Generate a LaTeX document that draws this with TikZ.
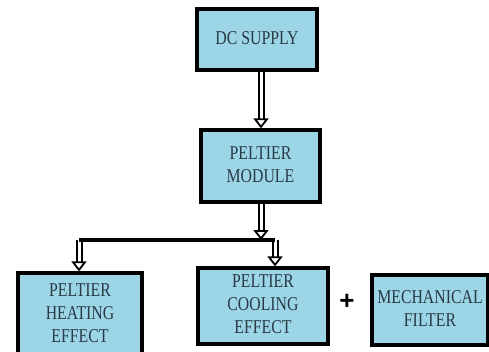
\documentclass[tikz,border=0pt]{standalone}
\usepackage{fontspec}
\setmainfont{Liberation Serif}
\newfontfamily\plusfont{Liberation Sans}
\usetikzlibrary{positioning,arrows.meta}
\definecolor{boxblue}{RGB}{156,213,230}
\definecolor{boxtext}{RGB}{40,58,68}
\newcommand{\lbl}[1]{\scalebox{0.93}[1.15]{\begin{tabular}{@{}c@{}}#1\end{tabular}}}
\tikzset{
  block/.style={draw=black, line width=3.2pt, fill=boxblue, text=boxtext, align=center,
    font=\rmfamily\fontsize{17}{20}\selectfont, inner sep=0pt},
  hollow/.style={double=white, double distance=3pt, line width=2pt,
    -{Triangle[open,length=10pt,width=15pt,line width=1.8pt,fill=white]}},
}

\begin{document}
\begin{tikzpicture}[x=1pt,y=-1pt]
\useasboundingbox (0,0) rectangle (489,351);

\node[block, minimum width=120pt, minimum height=61pt] (dc) at (257,39.5) {\lbl{DC SUPPLY}};
\node[block, minimum width=119pt, minimum height=72pt] (mod) at (260.5,166) {\lbl{PELTIER\\MODULE}};
\node[block, minimum width=124pt, minimum height=83pt] (heat) at (80,314.5) {\lbl{PELTIER\\HEATING\\EFFECT}};
\node[block, minimum width=130pt, minimum height=76pt] (cool) at (263,306) {\lbl{PELTIER\\COOLING\\EFFECT}};
\node[block, minimum width=116pt, minimum height=70pt] (filt) at (430,310) {\lbl{MECHANICAL\\FILTER}};
\node[font=\plusfont\fontsize{26}{26}\selectfont\bfseries] (plus) at (347,302) {+};

\coordinate (jm) at (261,240);
\coordinate (jl) at (79,240);
\coordinate (jr) at (275,240);

\draw[hollow] (dc.south -| jm) -- (mod.north -| jm);
\draw[hollow] (mod.south -| jm) -- (jm);
\draw[hollow] (jl) -- (heat.north -| jl);
\draw[hollow] (jr) -- (cool.north -| jr);
\draw[line width=3.2pt] (jl) -- (jr);
\end{tikzpicture}
\end{document}
